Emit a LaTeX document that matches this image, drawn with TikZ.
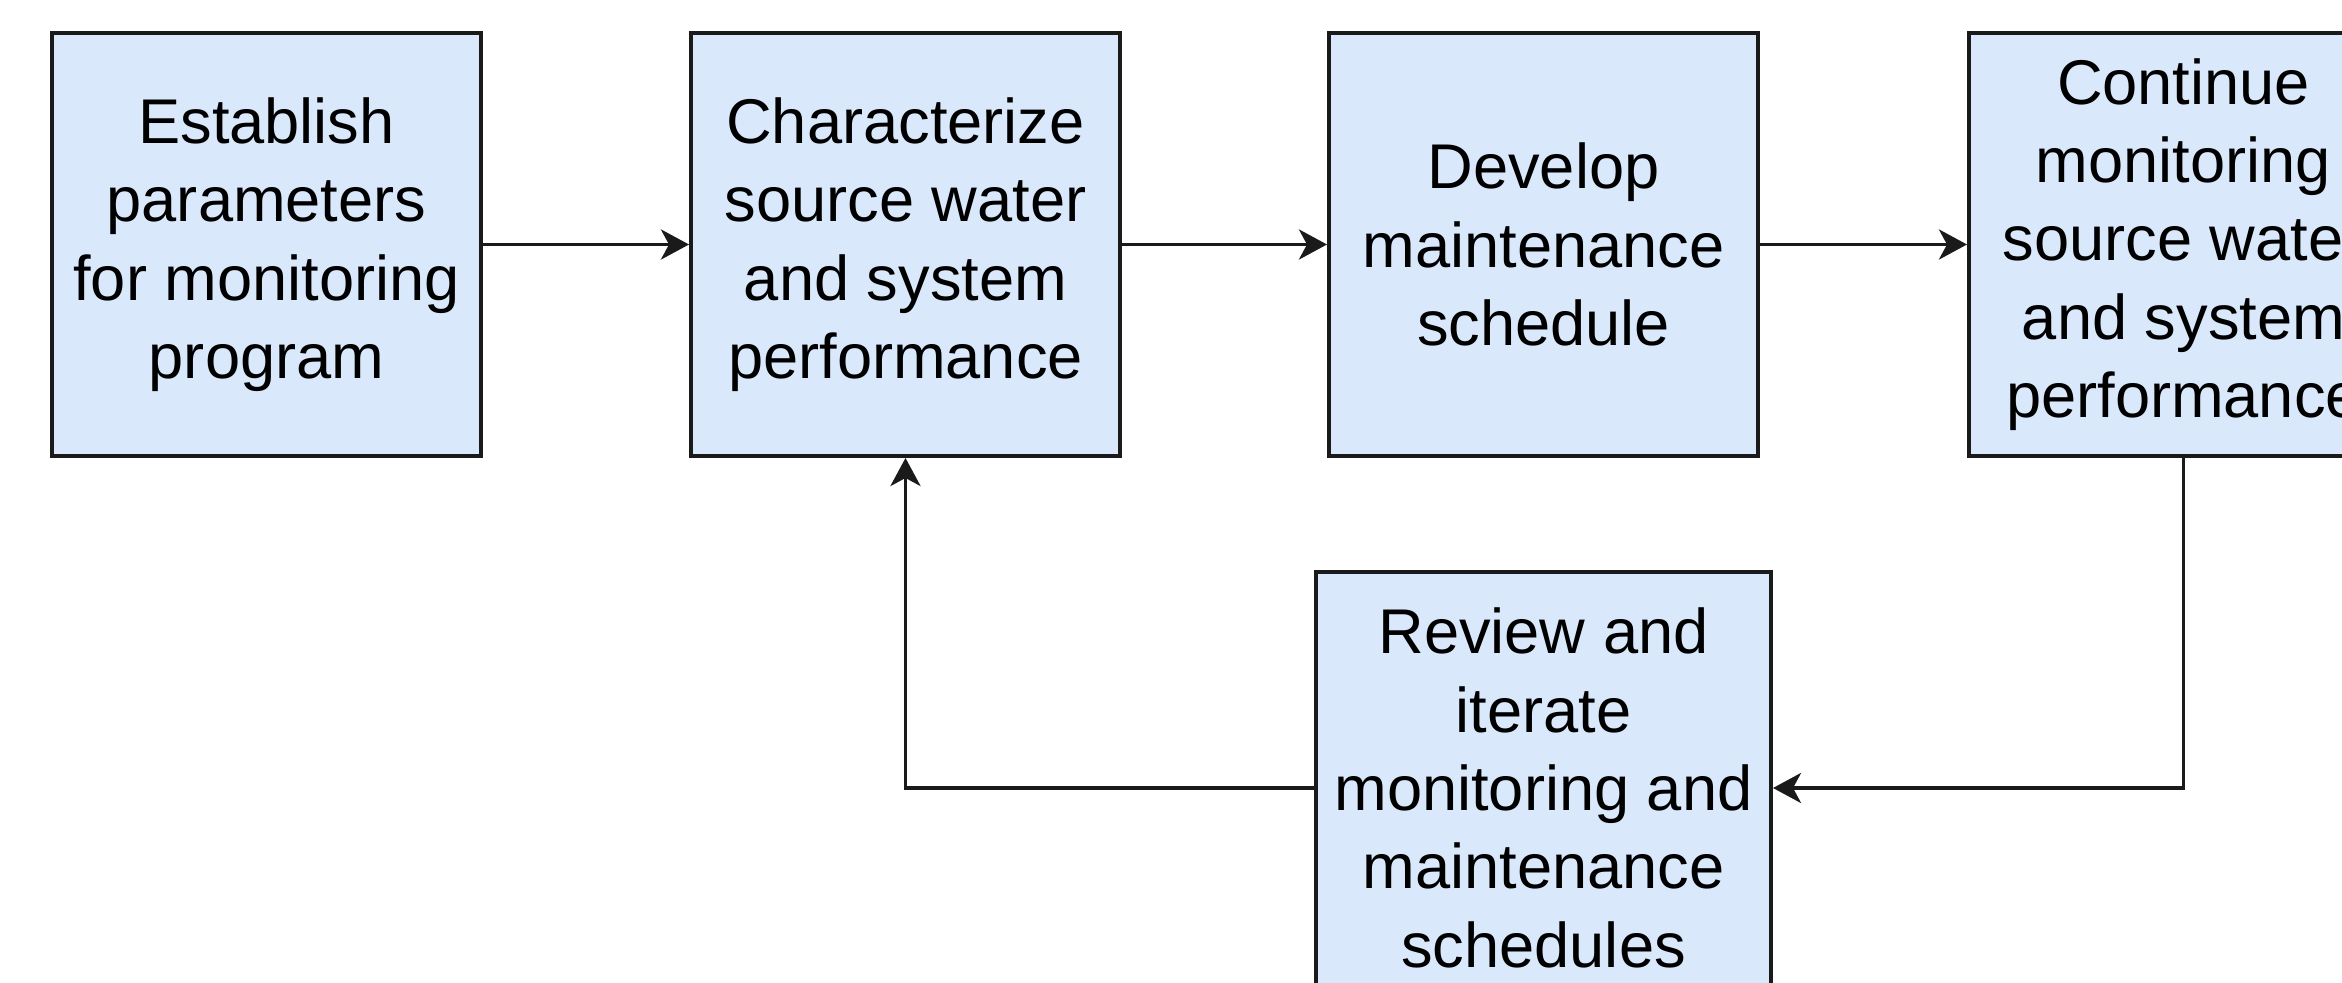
\documentclass[tikz,border=0pt]{standalone}
\usepackage{fontspec}
\setmainfont{Liberation Sans}
\usetikzlibrary{arrows.meta}

\definecolor{boxfill}{HTML}{DAE8FC}
\definecolor{boxline}{HTML}{1A1A1A}

\tikzset{
  stepbox/.style={draw=boxline, fill=boxfill, line width=2pt, rectangle,
    minimum width=214.5pt, minimum height=211.5pt, inner sep=0pt,
    align=center, font=\fontsize{31.6pt}{39.2pt}\selectfont},
  widebox/.style={stepbox, minimum width=227.5pt, minimum height=216pt},
  flow/.style={draw=boxline, line width=1.9pt,
    -{Stealth[length=14pt, width=15pt, inset=4pt]}}
}

\begin{document}
\begin{tikzpicture}[x=0.5pt, y=-0.5pt]
  \useasboundingbox (0,0) rectangle (2342,983);
  \fill[white] (0,0) rectangle (2342,983);
  \begin{scope}
    \clip (0,0) rectangle (2342,983);

    % main process row
    \node[stepbox] (est)  at (266.5,244.5)  {Establish\\parameters\\for monitoring\\program};
    \node[stepbox] (char) at (905.5,244.5)  {Characterize\\source water\\and system\\performance};
    \node[stepbox] (dev)  at (1543.5,244.5) {Develop\\maintenance\\schedule};
    \node[stepbox] (cont) at (2183.5,244.5) {Continue\\monitoring\\source water\\and system\\performance};

    % feedback step
    \node[widebox] (rev) at (1543.5,788) {Review and\\iterate\\monitoring and\\maintenance\\schedules};

    % connectors
    \draw[flow] (est.east) -- (char.west);
    \draw[flow] (char.east) -- (dev.west);
    \draw[flow] (dev.east) -- (cont.west);
    \draw[flow] (cont.south) |- (rev.east);
    \draw[flow] (rev.west) -| (char.south);
  \end{scope}
\end{tikzpicture}
\end{document}
